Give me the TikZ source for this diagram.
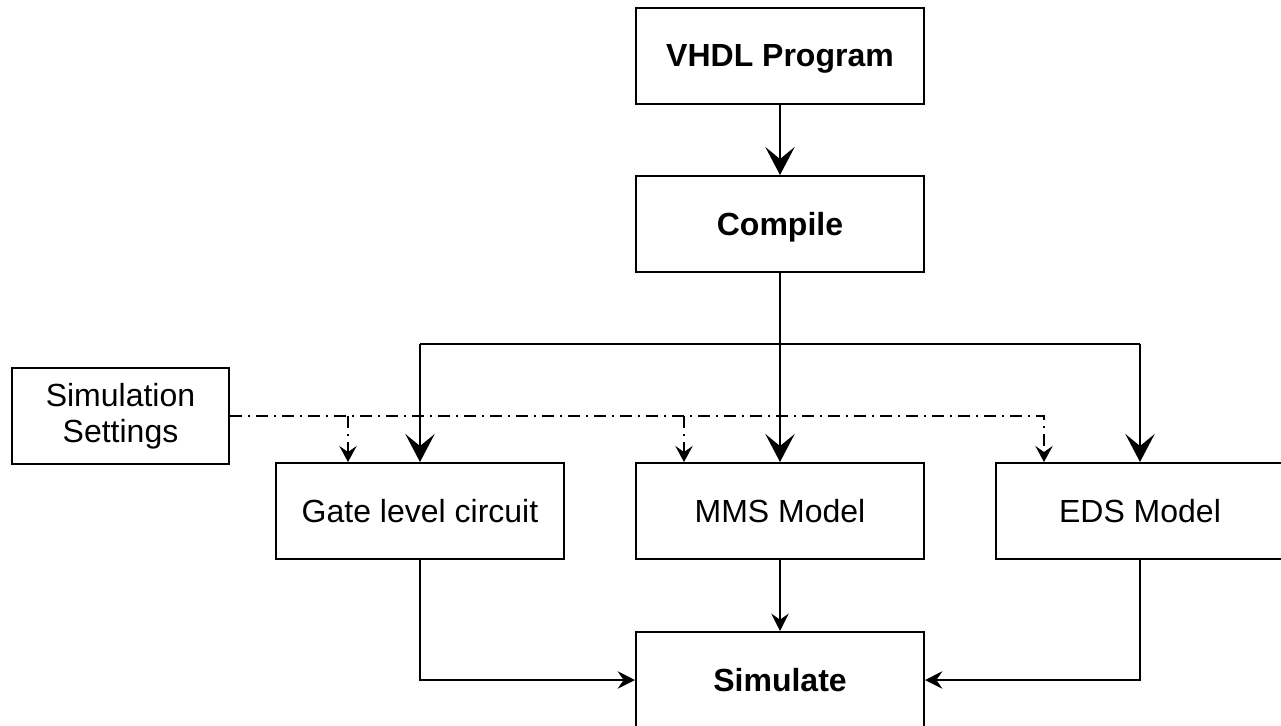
\documentclass[tikz,border=0pt]{standalone}
\usepackage{fontspec}
\setmainfont{Liberation Sans}
\usetikzlibrary{arrows.meta}
\begin{document}
\begin{tikzpicture}[x=0.75pt,y=-0.75pt,
  box/.style={draw,line width=1.5pt,minimum width=216pt,minimum height=72pt,inner sep=0pt,align=center,font=\fontsize{24}{27}\selectfont},
  oneline/.style={box,text depth=0pt},
  boldbox/.style={oneline,font=\fontsize{24}{27}\selectfont\bfseries},
  conn/.style={line width=1.5pt},
  bigtip/.style={-{Stealth[length=21pt,width=22pt,inset=9pt]}},
  smalltip/.style={-{Stealth[length=13pt,width=13pt,inset=4.5pt]}},
  dashtip/.style={-{Stealth[length=12pt,width=13pt,inset=4.5pt]}},
  dd/.style={dash pattern=on 9pt off 4.5pt on 1.5pt off 4.5pt}]
\useasboundingbox (0,0) rectangle (1281,725);

\node[boldbox] (vhdl) at (780,55.5) {VHDL Program};
\node[boldbox] (comp) at (780,224) {Compile};
\node[box,minimum width=162.75pt] (sset) at (120.5,416) {Simulation\\Settings};
\node[oneline] (gate) at (420,511) {Gate level circuit};
\node[oneline] (mms) at (780,511) {MMS Model};
\node[oneline] (eds) at (1140,511) {EDS Model};
\node[boldbox] (sim) at (780,680) {Simulate};

% compile fan-out
\coordinate (sl) at (420,344);
\coordinate (sr) at (1140,344);
\draw[conn,bigtip] (vhdl) -- (comp);
\draw[conn,bigtip] (comp) -- (mms);
\draw[conn] (sl) -- (sr);
\draw[conn,bigtip] (sl) -- (gate.north -| sl);
\draw[conn,bigtip] (sr) -- (eds.north -| sr);

% simulation settings (dash-dot)
\coordinate (d1) at (348,416);
\coordinate (d2) at (684,416);
\coordinate (d3) at (1044,416);
\draw[conn,dd,dashtip] (sset.east) -- (d3) -- (eds.north -| d3);
\draw[conn,dd,dashtip] (d1) -- (gate.north -| d1);
\draw[conn,dd,dashtip] (d2) -- (mms.north -| d2);

% into simulate
\draw[conn,smalltip] (mms) -- (sim);
\draw[conn,smalltip] (gate.south) |- (sim.west);
\draw[conn,smalltip] (eds.south) |- (sim.east);
\end{tikzpicture}
\end{document}
